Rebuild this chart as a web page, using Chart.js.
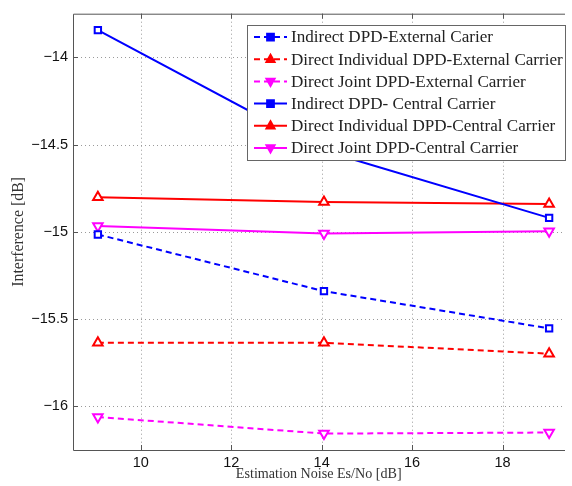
<!DOCTYPE html>
<html>
<head>
<meta charset="utf-8">
<script src="https://cdn.jsdelivr.net/npm/chart.js@4/dist/chart.umd.min.js"></script>
<style>
  html, body { margin: 0; padding: 0; background: #fff; }
  #wrap { width: 572px; height: 486px; }
</style>
</head>
<body>
<div id="wrap"><canvas id="c" width="572" height="486"></canvas></div>
<script>
// estimation noise Es/No [dB]
var noise = [9.05, 14.05, 19.03];

// interference [dB]
var indirectExt     = [-15.015, -15.34, -15.553];
var directIndExt    = [-15.635, -15.636, -15.698];
var directJointExt  = [-16.061, -16.156, -16.150];
var indirectCen     = [-13.844, -14.535, -14.920];
var directIndCen    = [-14.802, -14.829, -14.840];
var directJointCen  = [-14.967, -15.010, -14.996];

var xTicks = [10, 12, 14, 16, 18];
var yTicks = [-16, -15.5, -15, -14.5, -14];

var labels = [
  'Indirect DPD-External Carier',
  'Direct Individual DPD-External Carrier',
  'Direct Joint DPD-External Carrier',
  'Indirect DPD- Central Carrier',
  'Direct Individual DPD-Central Carrier',
  'Direct Joint DPD-Central Carrier'
];

var SERIF = '"Liberation Serif", "DejaVu Serif", serif';

// pick a serif size so a text gets the width it has in the picture
var mctx = document.createElement('canvas').getContext('2d');
function fitSize(text, width) {
  mctx.font = '20px ' + SERIF;
  return 20 * width / mctx.measureText(text).width;
}

function pts(arr) {
  return arr.map(function(v, i) { return { x: noise[i], y: v }; });
}

function series(label, vals, color, dashed, style, rot) {
  return {
    label: label,
    data: pts(vals),
    borderColor: color,
    backgroundColor: '#fff',
    borderWidth: 2,
    borderDash: dashed ? [6, 4] : [],
    pointStyle: style,
    pointRotation: rot,
    pointRadius: style === 'rect' ? 4.5 : 5.5,
    pointBorderWidth: 2,
    pointBorderColor: color,
    pointBackgroundColor: '#fff',
    tension: 0,
    fill: false
  };
}

function fmt(v) {
  return String(v).replace('-', '\u2212');
}

// dotted grid under the lines
var gridPlugin = {
  id: 'dotGrid',
  beforeDatasetsDraw: function(chart) {
    var ctx = chart.ctx, a = chart.chartArea;
    var xs = chart.scales.x, ys = chart.scales.y;
    ctx.save();
    ctx.strokeStyle = '#9a9a9a';
    ctx.lineWidth = 1;
    ctx.setLineDash([1, 3]);
    ctx.beginPath();
    xTicks.forEach(function(t) {
      var px = Math.round(xs.getPixelForValue(t)) + 0.5;
      ctx.moveTo(px, a.top); ctx.lineTo(px, a.bottom);
    });
    yTicks.forEach(function(t) {
      var py = Math.round(ys.getPixelForValue(t)) + 0.5;
      ctx.moveTo(a.left, py); ctx.lineTo(a.right, py);
    });
    ctx.stroke();
    ctx.restore();
  }
};

// MATLAB style frame with inward tick marks
var framePlugin = {
  id: 'frame',
  afterDatasetsDraw: function(chart) {
    var ctx = chart.ctx, a = chart.chartArea;
    var xs = chart.scales.x, ys = chart.scales.y;
    ctx.save();
    ctx.strokeStyle = '#555';
    ctx.lineWidth = 1;
    ctx.beginPath();
    ctx.moveTo(a.left + 0.5, a.top + 0.5);
    ctx.lineTo(a.right + 0.5, a.top + 0.5);
    ctx.moveTo(a.left + 0.5, a.top + 0.5);
    ctx.lineTo(a.left + 0.5, a.bottom + 0.5);
    ctx.lineTo(a.right + 0.5, a.bottom + 0.5);
    xTicks.forEach(function(t) {
      var px = Math.round(xs.getPixelForValue(t)) + 0.5;
      ctx.moveTo(px, a.bottom); ctx.lineTo(px, a.bottom - 5);
      ctx.moveTo(px, a.top); ctx.lineTo(px, a.top + 5);
    });
    yTicks.forEach(function(t) {
      var py = Math.round(ys.getPixelForValue(t)) + 0.5;
      ctx.moveTo(a.left, py); ctx.lineTo(a.left + 5, py);
    });
    ctx.stroke();
    ctx.restore();
  }
};

function marker(ctx, style, rot, x, y, r) {
  ctx.beginPath();
  if (style === 'rect') {
    ctx.rect(x - r * 0.75, y - r * 0.75, r * 1.5, r * 1.5);
  } else {
    var s = rot ? -1 : 1;
    ctx.moveTo(x, y - s * r);
    ctx.lineTo(x + r * 0.9, y + s * r * 0.6);
    ctx.lineTo(x - r * 0.9, y + s * r * 0.6);
    ctx.closePath();
  }
  ctx.fill();
  ctx.stroke();
}

// legend box drawn inside the plot area, upper right
var legendPlugin = {
  id: 'boxLegend',
  afterDraw: function(chart) {
    var ctx = chart.ctx;
    var bx = 247, by = 25, bw = 318, bh = 135;
    var size = fitSize(labels[1], 272);
    ctx.save();
    ctx.fillStyle = '#fff';
    ctx.fillRect(bx, by, bw, bh);
    ctx.strokeStyle = '#666';
    ctx.lineWidth = 1;
    ctx.strokeRect(bx + 0.5, by + 0.5, bw, bh);
    ctx.font = size.toFixed(2) + 'px ' + SERIF;
    ctx.textBaseline = 'middle';
    chart.data.datasets.forEach(function(ds, i) {
      var cy = by + 12 + i * 22.2;
      ctx.strokeStyle = ds.borderColor;
      ctx.lineWidth = 2;
      ctx.setLineDash(ds.borderDash);
      ctx.beginPath();
      ctx.moveTo(bx + 7, cy);
      ctx.lineTo(bx + 40, cy);
      ctx.stroke();
      ctx.setLineDash([]);
      ctx.fillStyle = ds.borderColor;
      marker(ctx, ds.pointStyle, ds.pointRotation, bx + 23.5, cy, 4.5);
      ctx.fillStyle = '#222';
      ctx.fillText(ds.label, bx + 44, cy + 1);
    });
    ctx.restore();
  }
};

var xTitle = 'Estimation Noise Es/No [dB]';
var yTitle = 'Interference [dB]';

var chart = new Chart(document.getElementById('c'), {
  type: 'line',
  data: {
    datasets: [
      series(labels[0], indirectExt, '#0000ff', true, 'rect', 0),
      series(labels[1], directIndExt, '#ff0000', true, 'triangle', 0),
      series(labels[2], directJointExt, '#ff00ff', true, 'triangle', 180),
      series(labels[3], indirectCen, '#0000ff', false, 'rect', 0),
      series(labels[4], directIndCen, '#ff0000', false, 'triangle', 0),
      series(labels[5], directJointCen, '#ff00ff', false, 'triangle', 180)
    ]
  },
  options: {
    responsive: false,
    animation: false,
    layout: { padding: { top: 11, right: 0, left: 0, bottom: 0 } },
    plugins: {
      legend: { display: false },
      tooltip: { enabled: false }
    },
    scales: {
      x: {
        type: 'linear',
        min: 8.5,
        max: 19.37,
        afterBuildTicks: function(s) { s.ticks = xTicks.map(function(v) { return { value: v }; }); },
        afterFit: function(s) { s.height = 36; },
        grid: { display: false, drawTicks: false },
        border: { display: false },
        ticks: {
          padding: 4,
          color: '#111',
          font: { family: '"Liberation Sans", Arial, sans-serif', size: 14.5 },
          callback: function(v) { return fmt(v); }
        },
        title: {
          display: true,
          text: xTitle,
          color: '#333',
          font: { family: SERIF, size: fitSize(xTitle, 166) },
          padding: { top: 0, bottom: 3 }
        }
      },
      y: {
        min: -16.25,
        max: -13.75,
        afterBuildTicks: function(s) { s.ticks = yTicks.map(function(v) { return { value: v }; }); },
        afterFit: function(s) { s.width = 73; },
        grid: { display: false, drawTicks: false },
        border: { display: false },
        ticks: {
          padding: 5,
          color: '#111',
          font: { family: '"Liberation Sans", Arial, sans-serif', size: 14.5 },
          callback: function(v) { return fmt(v); }
        },
        title: {
          display: true,
          text: yTitle,
          color: '#333',
          font: { family: SERIF, size: fitSize(yTitle, 110) },
          padding: { top: 9, bottom: 0 }
        }
      }
    }
  },
  plugins: [gridPlugin, framePlugin, legendPlugin]
});
</script>
</body>
</html>
